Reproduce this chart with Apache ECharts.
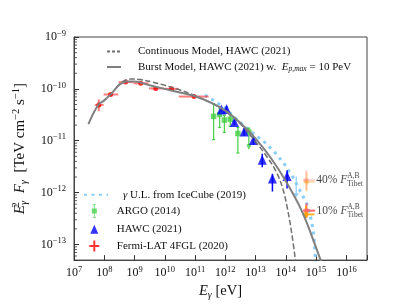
<!DOCTYPE html>
<html><head><meta charset="utf-8">
<script src="https://cdn.jsdelivr.net/npm/echarts@6/dist/echarts.min.js"></script>
<style>html,body{margin:0;padding:0;background:#fff}#c{width:407px;height:305px}</style>
</head><body><div id="c"></div>
<script>
// ---------------- data (E in eV, E^2 F in TeV cm^-2 s^-1) ----------------
const burstE = [3.0e7, 6.3e7, 1.0e8, 1.78e8, 3.16e8, 5.6e8, 1.0e9, 3.16e9, 1.0e10, 3.16e10, 1.0e11, 3.16e11, 1.0e12, 3.16e12, 1.0e13, 3.16e13, 1.0e14, 3.16e14, 7.9e14, 1.66e15];
const burstF = [2.1e-11, 4.9e-11, 6.0e-11, 8.3e-11, 1.2e-10, 1.38e-10, 1.38e-10, 1.17e-10, 1.0e-10, 8.5e-11, 7.2e-11, 5.5e-11, 3.8e-11, 2.2e-11, 1.1e-11, 4.7e-12, 1.66e-12, 4.8e-13, 1.26e-13, 3.8e-14];
const contE = [2.5e8, 4.0e8, 7.9e8, 1.58e9, 4.0e9, 1.0e10, 3.16e10, 1.0e11, 3.16e11, 1.0e12, 3.16e12, 1.0e13, 2.5e13, 5.0e13, 7.9e13, 1.12e14, 1.58e14, 2.2e14];
const contF = [1.05e-10, 1.38e-10, 1.55e-10, 1.51e-10, 1.35e-10, 1.17e-10, 9.5e-11, 7.4e-11, 5.5e-11, 3.7e-11, 2.1e-11, 9.5e-12, 4.7e-12, 2.4e-12, 1.2e-12, 5.0e-13, 1.58e-13, 3.8e-14];
const iceE = [2.1e11, 5.0e11, 1.0e12, 2.5e12, 7.6e12, 2.0e13, 4.3e13, 9.1e13, 1.7e14, 3.0e14, 5.0e14, 7.1e14, 8.5e14, 9.5e14, 1.02e15];
const iceF = [7.6e-11, 5.6e-11, 4.2e-11, 2.5e-11, 1.45e-11, 9.3e-12, 6.0e-12, 3.5e-12, 2.0e-12, 1.07e-12, 6.0e-13, 2.8e-13, 1.4e-13, 5.0e-14, 3.5e-14];

const fermiE   = [6.6e7, 1.62e8, 5.1e8, 1.6e9, 5.0e9, 1.66e10, 9.3e10];
const fermiF   = [4.9e-11, 7.8e-11, 1.35e-10, 1.28e-10, 1.02e-10, 1.0e-10, 7.1e-11];
const fermiElo = [4.9e7, 9.5e7, 3.0e8, 9.3e8, 3.0e9, 9.2e9, 2.9e10];
const fermiEhi = [9.5e7, 2.9e8, 9.3e8, 2.9e9, 9.2e9, 2.9e10, 2.8e11];
const fermiFlo = [3.7e-11, 7.3e-11, 1.30e-10, 1.24e-10, 0.98e-10, 0.96e-10, 6.7e-11];
const fermiFhi = [6.3e-11, 8.3e-11, 1.40e-10, 1.32e-10, 1.06e-10, 1.04e-10, 7.5e-11];

const argoE   = [4.1e11, 6.5e11, 9.3e11, 1.45e12, 2.6e12, 6.0e12];
const argoF   = [2.95e-11, 3.2e-11, 2.5e-11, 2.6e-11, 1.38e-11, 1.47e-11];
const argoFlo = [1.05e-11, 1.8e-11, 1.45e-11, 1.9e-11, 5.8e-12, 8.5e-12];
const argoFhi = [5.1e-11, 4.3e-11, 3.1e-11, 3.3e-11, 1.8e-11, 1.75e-11];
const argoUlE = [6.0e12];
const argoUlF = [7.4e-12];

const hawcE   = [7.4e11, 1.1e12, 2.0e12, 4.2e12, 8.5e12, 1.66e13, 3.6e13, 1.1e14];
const hawcF   = [4.0e-11, 4.1e-11, 2.3e-11, 1.5e-11, 1.03e-11, 4.3e-12, 1.87e-12, 2.1e-12];
const hawcFlo = [3.6e-11, 3.7e-11, 2.0e-11, 1.25e-11, 8.3e-12, 3.1e-12, 1.05e-12, 1.2e-12];
const hawcFhi = [4.5e-11, 4.6e-11, 2.6e-11, 1.75e-11, 1.25e-11, 5.6e-12, 2.3e-12, 2.7e-12];

const ulArrowE = [2.2e14];
const ulArrowF = [2.04e-12, 8.1e-13];

// Tibet points: [pink/red, orange]
const tib40E = [4.7e14, 4.9e14], tib40F = [1.74e-12, 1.6e-12];
const tib40Elo = [3.7e14, 3.8e14], tib40Ehi = [9.3e14, 9.0e14];
const tib40Flo = [1.12e-12, 1.05e-12], tib40Fhi = [2.7e-12, 2.5e-12];
const tib10E = [4.8e14, 4.6e14], tib10F = [4.5e-13, 3.8e-13];
const tib10Elo = [3.7e14, 3.6e14], tib10Ehi = [9.3e14, 8.8e14];
const tib10Flo = [3.3e-13, 3.2e-13], tib10Fhi = [6.2e-13, 5.5e-13];

const xMin = 1e7, xMax = 4.8e16, yMin = 5e-14, yMax = 1e-9;
// minor tick mantissas / decades for the log y axis
const minorMant = [2, 3, 4, 5, 6, 7, 8, 9];
const minorDec = [-14, -13, -12, -11, -10];

// ---------------- helpers ----------------
const FONT = 'Liberation Serif';
const TXT = '#111';
const NAMES = {
  cont: 'Continuous Model, HAWC (2021)',
  burst: 'Burst Model, HAWC (2021)',
  ice: 'IceCube (2019)',
  argo: 'ARGO (2014)',
  hawc: 'HAWC (2021)',
  fermi: 'Fermi-LAT 4FGL (2020)'
};
function pow10Label(v) {
  const l = Math.log10(v), e = Math.round(l);
  if (Math.abs(l - e) > 1e-6) return '';
  return '{b|10}{s|' + (e < 0 ? '\u2212' + (-e) : e) + '}';
}
const tickRich = {
  b: { fontFamily: FONT, fontSize: 12, color: TXT },
  s: { fontFamily: FONT, fontSize: 8.5, color: TXT, padding: [0, 0, 7, 0] }
};
function errRows(x, y, xlo, xhi, ylo, yhi) {
  return x.map((v, i) => [v, y[i], xlo ? xlo[i] : v, xhi ? xhi[i] : v, ylo ? ylo[i] : y[i], yhi ? yhi[i] : y[i]]);
}
function errSeries(rows, color, width, cap, z) {
  return {
    type: 'custom', silent: true, z: z || 3,
    data: rows,
    encode: { x: [0, 2, 3], y: [1, 4, 5] },
    renderItem: function (params, api) {
      const x = api.value(0), y = api.value(1), xlo = api.value(2), xhi = api.value(3), ylo = api.value(4), yhi = api.value(5);
      const ch = [];
      const st = () => ({ stroke: color, lineWidth: width });
      if (xlo !== xhi) {
        const a = api.coord([xlo, y]), b = api.coord([xhi, y]);
        ch.push({ type: 'line', shape: { x1: a[0], y1: a[1], x2: b[0], y2: b[1] }, style: st() });
      }
      if (ylo !== yhi) {
        const c = api.coord([x, ylo]), d = api.coord([x, yhi]);
        ch.push({ type: 'line', shape: { x1: c[0], y1: c[1], x2: d[0], y2: d[1] }, style: st() });
        if (cap) {
          ch.push({ type: 'line', shape: { x1: c[0] - cap, y1: c[1], x2: c[0] + cap, y2: c[1] }, style: st() });
          ch.push({ type: 'line', shape: { x1: d[0] - cap, y1: d[1], x2: d[0] + cap, y2: d[1] }, style: st() });
        }
      }
      return { type: 'group', children: ch };
    }
  };
}
const pairs = (a, b) => a.map((v, i) => [v, b[i]]);

const minorVals = [];
minorDec.forEach(d => minorMant.forEach(m => { const v = m * Math.pow(10, d); if (v > yMin && v < yMax) minorVals.push([xMin, v]); }));

const supSubRich = {
  n: { fontFamily: FONT, fontSize: 11, color: TXT },
  i: { fontFamily: FONT, fontSize: 11, fontStyle: 'italic', color: TXT },
  ps: { fontFamily: FONT, fontSize: 7.5, fontStyle: 'italic', color: TXT, padding: [5, 0, 0, 0] }
};

function legendBox(name, left, cy, w, h, icon, padLeft, extra) {
  return Object.assign({
    data: [icon ? { name: name, icon: icon } : name],
    left: left, top: cy - h / 2, padding: 0,
    itemWidth: w, itemHeight: h, selectedMode: false,
    textStyle: { fontFamily: FONT, fontSize: 11, color: TXT, padding: [0, 0, 0, padLeft], rich: supSubRich }
  }, extra || {});
}
const noSym = { itemStyle: { opacity: 0, color: 'rgba(0,0,0,0)', borderWidth: 0 } };

const option = {
  animation: false,
  backgroundColor: '#fff',
  grid: { left: 74, right: 40, top: 37, bottom: 43, show: true, borderColor: '#444', borderWidth: 1, backgroundColor: 'transparent' },
  legend: [
    legendBox(NAMES.cont, 106, 51, 14, 10, null, 12, Object.assign({ lineStyle: { type: [3, 2] } }, noSym)),
    legendBox(NAMES.burst, 106, 66.5, 14, 10, null, 12, Object.assign({
      formatter: () => 'Burst Model, HAWC (2021) w.  {i|E}{ps|p,max}{n| = 10 PeV}'
    }, noSym)),
    legendBox(NAMES.ice, 83, 194.3, 24, 10, null, 10, Object.assign({
      formatter: () => '{i|\u03b3}{n| U.L. from IceCube (2019)}'
    }, noSym)),
    legendBox(NAMES.argo, 91.8, 211, 5, 14, 'path://M1,0H4V0.8H2.9V4.5H5V9.5H2.9V13.2H4V14H1V13.2H2.1V9.5H0V4.5H2.1V0.8H1Z', 15),
    legendBox(NAMES.hawc, 90.3, 228.3, 8, 9, 'triangle', 13.5),
    legendBox(NAMES.fermi, 89.3, 246, 10, 11, 'path://M4,0H6V4.5H10V6.5H6V11H4V6.5H0V4.5H4Z', 12.5)
  ],
  xAxis: {
    type: 'log', logBase: 10, min: xMin, max: xMax, splitNumber: 10,
    axisLine: { show: true, lineStyle: { color: '#444' } },
    axisTick: { show: true, inside: true, length: 5, lineStyle: { color: '#333' } },
    minorTick: { show: false },
    splitLine: { show: false },
    axisLabel: { margin: 5, formatter: pow10Label, rich: tickRich, showMinLabel: true, showMaxLabel: true, hideOverlap: false },
    name: '{i|E}{sb|\u03b3}{n| [eV]}', nameLocation: 'middle', nameGap: 17,
    nameTextStyle: { rich: {
      i: { fontFamily: FONT, fontSize: 14.5, fontStyle: 'italic', color: TXT },
      sb: { fontFamily: FONT, fontSize: 10, fontStyle: 'italic', color: TXT, padding: [7, 0, 0, 0] },
      n: { fontFamily: FONT, fontSize: 14.5, color: TXT }
    } }
  },
  yAxis: {
    type: 'log', logBase: 10, min: yMin, max: yMax, splitNumber: 5,
    axisLine: { show: true, lineStyle: { color: '#444' } },
    axisTick: { show: true, inside: true, length: 5, lineStyle: { color: '#333' } },
    splitLine: { show: false },
    axisLabel: { margin: 8, formatter: pow10Label, rich: tickRich, showMinLabel: true, showMaxLabel: true, hideOverlap: false },
    name: '{i|E}{sp|2}{sb|\u03b3}{n|  }{i|F}{sb|\u03b3}{n|  [TeV cm}{sp2|\u22122}{n| s}{sp2|\u22121}{n|]}',
    nameLocation: 'middle', nameRotate: 90, nameGap: 32,
    nameTextStyle: { rich: {
      i: { fontFamily: FONT, fontSize: 15, fontStyle: 'italic', color: TXT },
      sp: { fontFamily: FONT, fontSize: 10.5, color: TXT, padding: [0, 0, 9, 0], width: 0.1 },
      sp2: { fontFamily: FONT, fontSize: 10.5, color: TXT, padding: [0, 0, 9, 0] },
      sb: { fontFamily: FONT, fontSize: 10.5, fontStyle: 'italic', color: TXT, padding: [8, 0, 0, 0] },
      n: { fontFamily: FONT, fontSize: 15, color: TXT }
    } }
  },
  series: [
    // y minor ticks
    {
      type: 'custom', silent: true, data: minorVals, z: 1,
      renderItem: (params, api) => {
        const p = api.coord([api.value(0), api.value(1)]);
        return { type: 'line', shape: { x1: p[0], y1: p[1], x2: p[0] + 3, y2: p[1] }, style: { stroke: '#333', lineWidth: 0.8 } };
      }
    },
    { name: NAMES.ice, type: 'line', data: pairs(iceE, iceF), symbol: 'none', z: 2,
      lineStyle: { color: '#87cefa', width: 3, type: [3, 4.5] }, itemStyle: { color: '#87cefa' } },
    errSeries(errRows(fermiE, fermiF, fermiElo, fermiEhi, fermiFlo, fermiFhi), 'rgba(255,40,40,0.6)', 2, 0, 3),
    { name: NAMES.fermi, type: 'scatter', data: pairs(fermiE, fermiF), symbol: 'circle', symbolSize: 5, z: 4,
      itemStyle: { color: '#ff0000' } },
    errSeries(errRows(argoE, argoF, null, null, argoFlo, argoFhi), '#44d044', 1.2, 1.5, 3),
    { name: NAMES.argo, type: 'scatter', data: pairs(argoE, argoF), symbol: 'rect', symbolSize: 5.5, z: 4,
      itemStyle: { color: '#44d044' } },
    { type: 'scatter', data: pairs(argoUlE, argoUlF), symbol: 'triangle', symbolRotate: 180, symbolSize: [5, 5], z: 4, silent: true,
      itemStyle: { color: '#44d044' } },
    errSeries(errRows(hawcE, hawcF, null, null, hawcFlo, hawcFhi), '#0000ff', 1.5, 0, 3),
    { name: NAMES.hawc, type: 'scatter', data: pairs(hawcE, hawcF), symbol: 'triangle', symbolSize: [9, 10], z: 4,
      itemStyle: { color: '#0000ff' } },
    // light-blue upper-limit arrow
    {
      type: 'custom', silent: true, z: 3,
      data: [[ulArrowE[0], ulArrowF[0], ulArrowF[1]]], encode: { x: 0, y: [1, 2] },
      renderItem: (params, api) => {
        const a = api.coord([api.value(0), api.value(1)]), b = api.coord([api.value(0), api.value(2)]);
        return { type: 'group', children: [
          { type: 'line', shape: { x1: a[0], y1: a[1], x2: b[0], y2: b[1] - 3 }, style: { stroke: '#87cefa', lineWidth: 1.2 } },
          { type: 'polygon', shape: { points: [[b[0] - 2.5, b[1] - 4], [b[0] + 2.5, b[1] - 4], [b[0], b[1]]] }, style: { fill: '#87cefa' } }
        ] };
      }
    },
    // Tibet points
    errSeries(errRows([tib40E[0]], [tib40F[0]], [tib40Elo[0]], [tib40Ehi[0]], [tib40Flo[0]], [tib40Fhi[0]]), 'rgba(255,120,120,0.35)', 2, 0, 3),
    errSeries(errRows([tib40E[1]], [tib40F[1]], [tib40Elo[1]], [tib40Ehi[1]], [tib40Flo[1]], [tib40Fhi[1]]), 'rgba(255,170,40,0.35)', 2, 0, 3),
    errSeries(errRows([tib10E[0]], [tib10F[0]], [tib10Elo[0]], [tib10Ehi[0]], [tib10Flo[0]], [tib10Fhi[0]]), 'rgba(255,80,80,0.85)', 2, 0, 3),
    errSeries(errRows([tib10E[1]], [tib10F[1]], [tib10Elo[1]], [tib10Ehi[1]], [tib10Flo[1]], [tib10Fhi[1]]), 'rgba(255,165,0,0.85)', 2, 0, 3),
    { type: 'scatter', silent: true, z: 4, symbolSize: 5,
      data: [
        { value: [tib40E[0], tib40F[0]], itemStyle: { color: 'rgba(255,120,120,0.45)' } },
        { value: [tib40E[1], tib40F[1]], itemStyle: { color: 'rgba(255,170,40,0.45)' } },
        { value: [tib10E[0], tib10F[0]], itemStyle: { color: '#ff6a6a' } },
        { value: [tib10E[1], tib10F[1]], itemStyle: { color: '#ffa500' } }
      ] },
    { type: 'scatter', silent: true, z: 5, symbolSize: 0,
      data: [
        { value: [tib40E[0], tib40F[0]], lab: '40%' },
        { value: [tib10E[0], tib10F[0]], lab: '10%' }
      ],
      label: { show: true, position: 'right', distance: 10,
        formatter: p => '{n|' + p.data.lab + ' }{i|F}{sp|A,B}{sb|Tibet}',
        rich: {
          n: { fontFamily: FONT, fontSize: 11.5, color: TXT },
          i: { fontFamily: FONT, fontSize: 11.5, fontStyle: 'italic', color: TXT },
          sp: { fontFamily: FONT, fontSize: 7.5, color: TXT, padding: [0, 0, 8, 0], width: 0.1 },
          sb: { fontFamily: FONT, fontSize: 7.5, color: TXT, padding: [8, 0, 0, 0] }
        } } },
    // models
    { name: NAMES.cont, type: 'line', data: pairs(contE, contF), symbol: 'none', smooth: 0.4, z: 5,
      lineStyle: { color: '#707070', width: 1.5, type: [5.5, 2.5] }, itemStyle: { color: '#707070' } },
    { name: NAMES.burst, type: 'line', data: pairs(burstE, burstF), symbol: 'none', smooth: 0.4, z: 5,
      lineStyle: { color: '#808080', width: 2 }, itemStyle: { color: '#808080' } }
  ]
};
const chart = echarts.init(document.getElementById('c'), null, { renderer: 'canvas' });
chart.setOption(option);
</script>
</body></html>
